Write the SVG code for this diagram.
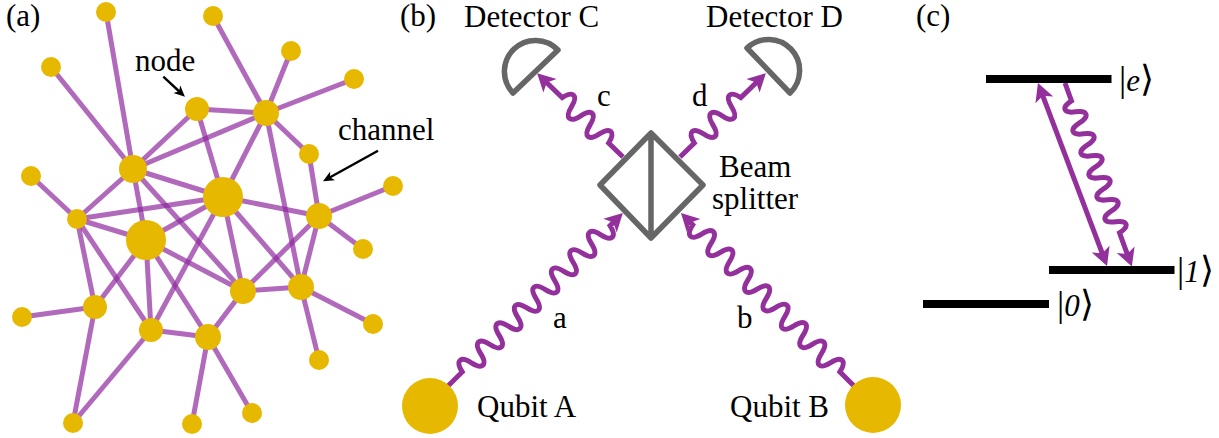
<svg xmlns="http://www.w3.org/2000/svg" width="1219" height="438" viewBox="0 0 1219 438">
<style>
text{font-family:"Liberation Serif","Times New Roman",serif;font-size:31px;fill:#000}
.s{font-size:36px}
.i{font-style:italic;font-size:31px}
.e line{stroke:#8e2a9e;stroke-opacity:.7;stroke-width:5}
.n{fill:#e6b800}
.w{fill:none;stroke:#93309c;stroke-width:5;marker-end:url(#h)}
.g{fill:#fff;stroke:#666;stroke-width:5.500;stroke-linejoin:round}
.a{stroke:#000;stroke-width:2.400;fill:none;marker-end:url(#k)}
.b{fill:#000}
</style>
<defs>
<marker id="h" markerUnits="userSpaceOnUse" markerWidth="40" markerHeight="40" refX="0" refY="0" orient="auto-start-reverse" overflow="visible"><path d="M10,0L-8,-9.500L-3.500,0L-8,9.500Z" fill="#93309c"/></marker>
<marker id="k" markerUnits="userSpaceOnUse" markerWidth="20" markerHeight="20" refX="0" refY="0" orient="auto" overflow="visible"><path d="M4,0L-7,-5L-4,0L-7,5Z" fill="#000"/></marker>
</defs>
<g id="connectors">
<g class="e">
<line x1="106" y1="12" x2="133" y2="169"/><line x1="51" y1="67" x2="133" y2="169"/><line x1="213" y1="16" x2="266" y2="113"/><line x1="291" y1="51" x2="266" y2="113"/><line x1="354" y1="79" x2="266" y2="113"/><line x1="197" y1="109" x2="266" y2="113"/><line x1="197" y1="109" x2="133" y2="169"/><line x1="266" y1="113" x2="133" y2="169"/><line x1="197" y1="109" x2="223" y2="197"/><line x1="266" y1="113" x2="223" y2="197"/><line x1="266" y1="113" x2="301" y2="287"/><line x1="266" y1="113" x2="309" y2="154"/><line x1="309" y1="154" x2="319" y2="216"/><line x1="133" y1="169" x2="223" y2="197"/><line x1="133" y1="169" x2="77" y2="219"/><line x1="133" y1="169" x2="146" y2="240"/><line x1="133" y1="169" x2="243" y2="291"/><line x1="223" y1="197" x2="77" y2="219"/><line x1="223" y1="197" x2="146" y2="240"/><line x1="223" y1="197" x2="151" y2="330"/><line x1="223" y1="197" x2="243" y2="291"/><line x1="223" y1="197" x2="301" y2="287"/><line x1="223" y1="197" x2="319" y2="216"/><line x1="319" y1="216" x2="393" y2="186"/><line x1="319" y1="216" x2="363" y2="249"/><line x1="319" y1="216" x2="243" y2="291"/><line x1="319" y1="216" x2="301" y2="287"/><line x1="77" y1="219" x2="31" y2="176"/><line x1="77" y1="219" x2="146" y2="240"/><line x1="77" y1="219" x2="151" y2="330"/><line x1="77" y1="219" x2="95" y2="307"/><line x1="146" y1="240" x2="95" y2="307"/><line x1="146" y1="240" x2="151" y2="330"/><line x1="146" y1="240" x2="208" y2="337"/><line x1="146" y1="240" x2="243" y2="291"/><line x1="243" y1="291" x2="301" y2="287"/><line x1="243" y1="291" x2="208" y2="337"/><line x1="301" y1="287" x2="373" y2="324"/><line x1="301" y1="287" x2="319" y2="360"/><line x1="95" y1="307" x2="22" y2="317"/><line x1="95" y1="307" x2="73" y2="423"/><line x1="151" y1="330" x2="208" y2="337"/><line x1="151" y1="330" x2="73" y2="423"/><line x1="208" y1="337" x2="192" y2="424"/><line x1="208" y1="337" x2="252" y2="413"/>
</g>
<path class="a" d="M163.3,76.7L182,94"/>
<path class="a" d="M378,150.7L326.500,179.200"/>
<path class="w" transform="translate(448,386) rotate(-44.7)" d="M0,0h20c3,-13 10,-13 13,0s10,13 13,0s10,-13 13,0s10,13 13,0s10,-13 13,0s10,13 13,0s10,-13 13,0s10,13 13,0s10,-13 13,0s10,13 13,0s10,-13 13,0s10,13 13,0s10,-13 13,0s10,13 13,0s10,-13 13,0s10,13 13,0h8"/>
<path class="w" transform="translate(854,386) scale(-1,1) rotate(-45)" d="M0,0h20c3,-13 10,-13 13,0s10,13 13,0s10,-13 13,0s10,13 13,0s10,-13 13,0s10,13 13,0s10,-13 13,0s10,13 13,0s10,-13 13,0s10,13 13,0s10,-13 13,0s10,13 13,0s10,-13 13,0s10,13 13,0s10,-13 13,0s10,13 13,0h6.700"/>
<path class="w" transform="translate(623,157) scale(-1,1) rotate(-44.3)" d="M0,0h20c3,-13 10,-13 13,0s10,13 13,0s10,-13 13,0s10,13 13,0s10,-13 13,0h25"/>
<path class="w" transform="translate(680,157) rotate(-44.3)" d="M0,0h20c3,-13 10,-13 13,0s10,13 13,0s10,-13 13,0s10,13 13,0s10,-13 13,0h25"/>
<path class="w" transform="translate(1065,83) rotate(70) scale(1,-1)" d="M0,0h19c2.500,-12 9.200,-12 11.700,0s9.200,12 11.700,0s9.200,-12 11.700,0s9.200,12 11.700,0s9.200,-12 11.700,0s9.200,12 11.700,0s9.200,-12 11.700,0s9.200,12 11.700,0s9.200,-12 11.700,0s9.200,12 11.700,0s9.200,-12 11.700,0s9.200,12 11.700,0h26"/>
<path class="w" style="marker-start:url(#h)" d="M1041.5,92.4L1103.5,256.6"/>
</g>
<g id="network-nodes">
<circle id="n1" class="n" cx="106" cy="12" r="10"/><circle id="n2" class="n" cx="213" cy="16" r="10"/><circle id="n3" class="n" cx="51" cy="67" r="10"/><circle id="n4" class="n" cx="291" cy="51" r="10"/><circle id="n5" class="n" cx="354" cy="79" r="10"/><circle id="n6" class="n" cx="197" cy="109" r="12"/><circle id="n7" class="n" cx="266" cy="113" r="13"/><circle id="n8" class="n" cx="309" cy="154" r="10"/><circle id="n9" class="n" cx="133" cy="169" r="14"/><circle id="n10" class="n" cx="223" cy="197" r="20"/><circle id="n11" class="n" cx="31" cy="176" r="10"/><circle id="n12" class="n" cx="393" cy="186" r="10"/><circle id="n13" class="n" cx="319" cy="216" r="13"/><circle id="n14" class="n" cx="77" cy="219" r="10"/><circle id="n15" class="n" cx="146" cy="240" r="20"/><circle id="n16" class="n" cx="363" cy="249" r="10"/><circle id="n17" class="n" cx="243" cy="291" r="13"/><circle id="n18" class="n" cx="301" cy="287" r="13"/><circle id="n19" class="n" cx="95" cy="307" r="12"/><circle id="n20" class="n" cx="22" cy="317" r="10"/><circle id="n21" class="n" cx="151" cy="330" r="12"/><circle id="n22" class="n" cx="208" cy="337" r="13"/><circle id="n23" class="n" cx="373" cy="324" r="10"/><circle id="n24" class="n" cx="319" cy="360" r="10"/><circle id="n25" class="n" cx="73" cy="423" r="10"/><circle id="n26" class="n" cx="192" cy="424" r="10"/><circle id="n27" class="n" cx="252" cy="413" r="10"/>
</g>
<g id="qubit-a"><circle class="n" cx="430" cy="406" r="28"/><text x="477" y="417">Qubit A</text></g>
<g id="qubit-b"><circle class="n" cx="873" cy="405" r="28"/><text x="730" y="417">Qubit B</text></g>
<g id="detector-c"><path class="g" d="M558,50A31,31 0 0 0 513,93Z"/><text x="464" y="27">Detector C</text></g>
<g id="detector-d"><path class="g" d="M747,48A31,31 0 0 1 790,93Z"/><text x="706" y="27">Detector D</text></g>
<g id="beam-splitter"><path class="g" style="fill:none" d="M651,133L703,185L651,238L600,185ZM651,133V238"/><text x="719" y="177">Beam</text><text x="712" y="209">splitter</text></g>
<g id="level-e"><rect class="b" x="986" y="75" width="125.500" height="8"/><text class="s" x="1119" y="91">|<tspan class="i">e</tspan>⟩</text></g>
<g id="level-1"><rect class="b" x="1049" y="266" width="125.500" height="8"/><text class="s" x="1177" y="282">|<tspan class="i">1</tspan>⟩</text></g>
<g id="level-0"><rect class="b" x="923" y="300" width="126" height="8"/><text class="s" x="1057" y="316">|<tspan class="i">0</tspan>⟩</text></g>
<g id="labels">
<text x="6" y="26">(a)</text><text x="400" y="26">(b)</text><text x="916" y="26">(c)</text>
<text x="135" y="71">node</text><text x="338" y="140">channel</text>
<text x="553" y="328">a</text><text x="737" y="328">b</text><text x="597" y="106">c</text><text x="692" y="106">d</text>
</g>
</svg>
